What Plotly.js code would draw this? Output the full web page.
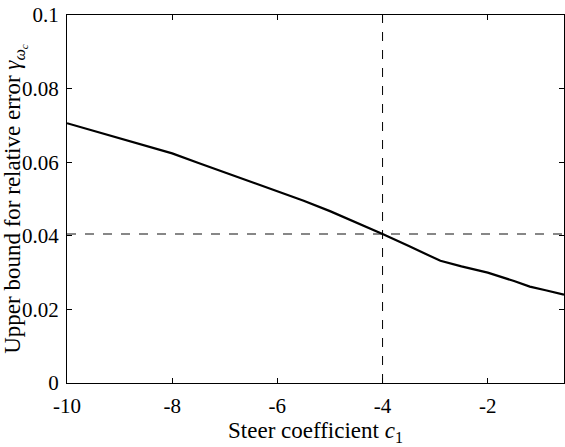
<!DOCTYPE html>
<html>
<head>
<meta charset="utf-8">
<script src="https://cdn.plot.ly/plotly-3.0.1.min.js"></script>
<style>html,body{margin:0;padding:0;background:#fff}#chart{width:565px;height:447px}</style>
</head>
<body>
<div id="chart"></div>
<script>
const steerCoeff = [-10,-9.5,-9,-8.5,-8,-7.5,-7,-6.5,-6,-5.5,-5,-4.5,-4,-3.5,-2.9,-2.5,-2,-1.5,-1.2,-0.9,-0.55];
const gammaBound = [0.0706,0.0686,0.0665,0.0645,0.0624,0.0598,0.0572,0.0547,0.0522,0.0495,0.0467,0.0437,0.0405,0.0372,0.0332,0.0317,0.0300,0.0277,0.0262,0.0252,0.0240];
const refC = -4;
const refGamma = 0.0405;
const xRange = [-10, -0.55];
const yRange = [0, 0.1];
const xTickVals = [-10,-8,-6,-4,-2];
const xTickText = ["-10","-8","-6","-4","-2"];
const yTickVals = [0,0.02,0.04,0.06,0.08,0.1];
const yTickText = ["0","0.02","0.04","0.06","0.08","0.1"];

const font = "Liberation Serif, Times New Roman, serif";
const traces = [
  {x:[refC,refC], y:yRange, mode:'lines', line:{color:'#000', width:1, dash:'dash'}, hoverinfo:'skip'},
  {x:xRange, y:[refGamma,refGamma], mode:'lines', line:{color:'#111', width:1.1, dash:'dash'}, hoverinfo:'skip'},
  {x:steerCoeff, y:gammaBound, mode:'lines', line:{color:'#000', width:2.2}}
];
const layout = {
  width:565, height:447,
  margin:{l:67, r:1, t:15, b:64},
  showlegend:false,
  paper_bgcolor:'#fff', plot_bgcolor:'#fff',
  font:{family:font, size:21, color:'#000'},
  xaxis:{range:xRange, tickvals:xTickVals, ticktext:xTickText, ticks:'inside', ticklen:5, tickcolor:'#000',
    showline:true, linecolor:'#000', linewidth:1, mirror:'ticks', showgrid:false, zeroline:false,
    tickfont:{family:font, size:21, color:'#000'}, ticklabelstandoff:4,
    title:{text:'Steer coefficient <i>c</i><sub>1</sub>', font:{family:font, size:23, color:'#000'}, standoff:2}},
  yaxis:{range:yRange, tickvals:yTickVals, ticktext:yTickText, ticks:'inside', ticklen:5, tickcolor:'#000',
    showline:true, linecolor:'#000', linewidth:1, mirror:'ticks', showgrid:false, zeroline:false,
    tickfont:{family:font, size:21, color:'#000'}, ticklabelstandoff:3,
    title:{text:'Upper bound for relative error <i>γ</i><sub><i>ω</i><sub><i>c</i></sub></sub>', font:{family:font, size:23, color:'#000'}, standoff:5}}
};
Plotly.newPlot('chart', traces, layout, {displayModeBar:false, staticPlot:true});
</script>
</body>
</html>
